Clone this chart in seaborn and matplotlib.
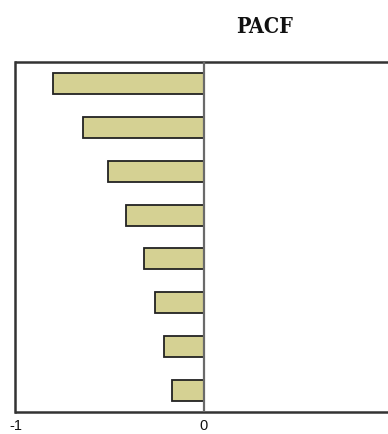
import matplotlib
matplotlib.use("Agg")
import matplotlib.pyplot as plt
import seaborn as sns
import pandas as pd

# Partial autocorrelation by lag
lags = ["1", "2", "3", "4", "5", "6", "7", "8"]
pacf = [-0.80, -0.64, -0.51, -0.41, -0.315, -0.26, -0.21, -0.165]
x_ticks = [-1, 0, 1]
x_tick_labels = ["-1", "0", "1"]

sns.set_theme(style="white")
plt.rcParams["font.family"] = ["Liberation Sans", "DejaVu Sans"]

df = pd.DataFrame({"lag": lags, "pacf": pacf})

fig = plt.figure(figsize=(3.88, 4.35), dpi=100)
ax = fig.add_axes([15.5 / 388, 22 / 435, 376 / 388, 350 / 435])

sns.barplot(data=df, x="pacf", y="lag", orient="h", order=lags,
            color="#D5D193", saturation=1, edgecolor="#222222",
            linewidth=1.3, width=0.48, ax=ax)

ax.axvline(0, color="#6a6a6a", lw=1.6, zorder=3)
ax.set_xlim(-1, 1)
ax.set_ylim(7.5, -0.5)
ax.set_xticks(x_ticks)
ax.set_xticklabels(x_tick_labels, fontsize=10.5, color="#111111")
ax.tick_params(axis="x", length=0, pad=4)
ax.set_yticks([])
ax.set_xlabel("")
ax.set_ylabel("")
for side in ["left", "bottom", "top"]:
    ax.spines[side].set_color("#333333")
    ax.spines[side].set_linewidth(1.8)
ax.spines["right"].set_visible(False)

fig.text(265 / 388, 1 - 27 / 435, "PACF", ha="center", va="center",
         family=["DejaVu Serif", "Liberation Serif"], fontstretch="condensed",
         fontweight="bold", fontsize=15.5, color="#111111")

fig.savefig("out.png", dpi=100)
